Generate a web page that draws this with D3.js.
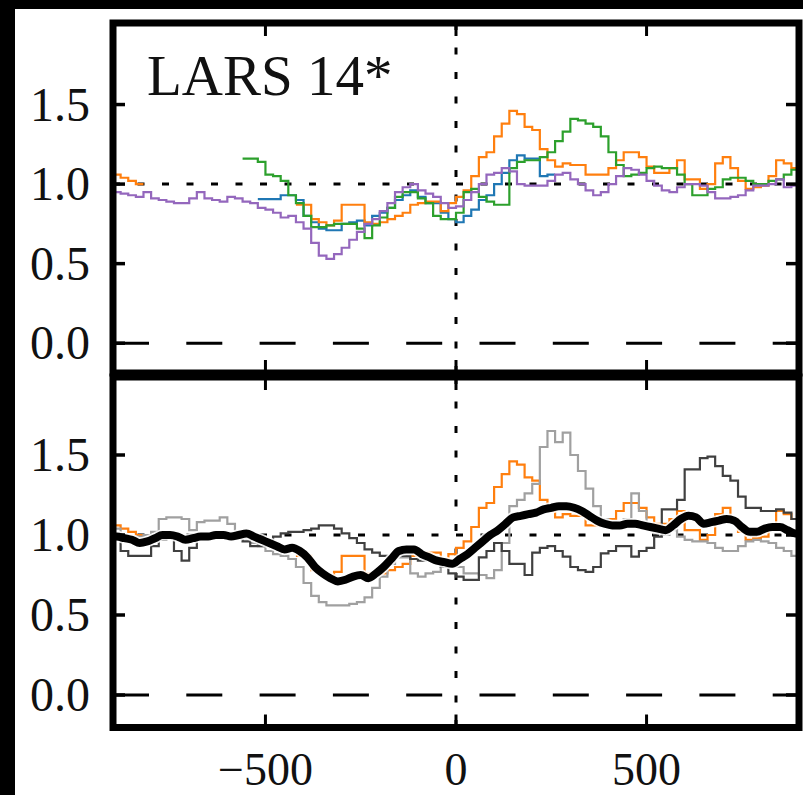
<!DOCTYPE html>
<html>
<head>
<meta charset="utf-8">
<script src="https://cdn.jsdelivr.net/npm/d3@7"></script>
<style>
  html, body { margin: 0; padding: 0; background: #000; }
  svg { display: block; }
  text { font-family: "Liberation Serif", "DejaVu Serif", serif; fill: #111; }
</style>
</head>
<body>
<svg id="chart" width="803" height="795"></svg>
<script>
// Velocity bins (km/s): left edges, 20 km/s wide, -900 ... 880
const binWidth = 20;
const velocity = d3.range(-900, 900, binWidth);

// Upper panel: normalised flux of the individual Si II lines (null = masked)
const lineBlue = [
  null, null, null, null, null, null, null, null, null, null,
  null, null, null, null, null, null, null, null, null, 0.905,
  0.905, 0.905, 0.93, 0.93, 0.90, 0.80, 0.76, 0.72, 0.71, 0.71,
  0.75, 0.76, 0.77, 0.74, 0.80, 0.82, 0.85, 0.90, 0.93, 0.96,
  0.92, 0.88, 0.88, 0.82, 0.78, 0.76, 0.80, 0.84, 0.90, 0.93,
  1.00, 1.07, 1.15, 1.18, 1.16, 1.16, 1.05, 1.06, null, null,
  null, null, null, null, null, null, null, null, null, null,
  null, null, null, null, null, null, null, null, null, null,
  null, null, null, null, null, null, null, null, null, null
];
const lineOrange = [
  1.06, 1.04, 1.02, 1.00, null, null, null, null, null, null,
  null, null, null, null, null, null, null, null, null, null,
  null, null, null, null, 0.87, 0.87, 0.78, 0.76, 0.74, 0.77,
  0.87, 0.87, 0.87, 0.76, 0.75, 0.76, 0.78, 0.80, 0.82, 0.87,
  0.88, 0.89, 0.89, 0.83, 0.88, 0.92, 0.96, 1.05, 1.17, 1.20,
  1.30, 1.38, 1.46, 1.44, 1.36, 1.34, 1.22, 1.15, 1.11, 1.13,
  1.12, 1.12, 1.06, 1.06, 1.06, 1.10, 1.15, 1.20, 1.20, 1.17,
  1.11, 1.07, 1.07, 1.10, 1.15, 1.03, 1.03, 0.97, 1.00, 1.13,
  1.17, 1.10, 1.02, 0.97, 0.98, 0.99, 1.05, 1.15, 1.13, 1.10
];
const lineGreen = [
  null, null, null, null, null, null, null, null, null, null,
  null, null, null, null, null, null, null, 1.16, 1.16, 1.14,
  1.06, 1.05, 1.02, 0.93, 0.88, 0.80, 0.73, 0.73, 0.74, 0.75,
  0.75, 0.75, 0.72, 0.66, 0.74, 0.79, 0.85, 0.92, 0.95, 0.95,
  0.91, 0.88, 0.80, 0.78, 0.78, 0.82, 0.95, 0.97, 0.92, 0.89,
  0.87, 0.87, 1.10, 1.14, 1.15, 1.15, 1.17, 1.20, 1.27, 1.33,
  1.41, 1.40, 1.38, 1.36, 1.30, 1.20, 1.12, 1.05, 1.06, 1.07,
  1.10, 1.11, 1.10, 1.10, 1.06, 1.00, 0.93, 0.93, 0.97, 0.98,
  1.03, 1.04, 1.04, 1.02, 1.00, 1.00, 1.02, 1.03, 1.06, 1.09
];
const linePurple = [
  0.95, 0.94, 0.93, 0.92, 0.95, 0.91, 0.90, 0.89, 0.88, 0.88,
  0.91, 0.95, 0.91, 0.90, 0.89, 0.92, 0.91, 0.89, 0.88, 0.85,
  0.84, 0.82, 0.79, 0.80, 0.76, 0.72, 0.63, 0.55, 0.53, 0.56,
  0.60, 0.65, 0.70, 0.75, 0.78, 0.83, 0.88, 0.95, 0.98, 1.00,
  0.96, 0.94, 0.92, 0.88, 0.85, 0.86, 0.90, 0.95, 1.00, 1.06,
  1.07, 1.10, 1.08, 1.00, 0.99, 0.99, 0.99, 1.02, 1.06, 1.07,
  1.03, 1.00, 0.96, 0.93, 0.95, 1.00, 1.05, 1.10, 1.09, 1.06,
  1.02, 0.99, 0.96, 0.95, 0.98, 1.00, 1.00, 0.99, 0.95, 0.91,
  0.91, 0.92, 0.93, 0.96, 0.99, 0.99, 1.00, 1.03, 0.98, 0.99
];

// Lower panel: comparison profiles and their average
const profileLight = [
  1.04, 1.00, 0.98, 0.99, 1.00, 1.02, 1.10, 1.11, 1.11, 1.10,
  1.03, 1.08, 1.09, 1.09, 1.11, 1.07, 1.02, 0.98, 0.95, 0.93,
  0.90, 0.88, 0.87, 0.85, 0.80, 0.70, 0.62, 0.58, 0.56, 0.56,
  0.56, 0.57, 0.58, 0.61, 0.67, 0.74, 0.82, 0.86, 0.86, 0.76,
  0.74, 0.76, 0.77, 0.80, 0.80, 0.80, 0.76, 0.76, 0.75, 0.73,
  0.78, 0.95, 1.18, 1.22, 1.26, 1.32, 1.55, 1.65, 1.58, 1.64,
  1.50, 1.40, 1.29, 1.18, 1.10, 1.08, 1.05, 1.10, 1.26, 1.15,
  1.04, 1.01, 1.00, 1.03, 0.99, 0.97, 0.96, 0.96, 0.95, 0.92,
  0.90, 0.90, 0.93, 0.96, 0.97, 0.96, 0.95, 0.92, 0.90, 0.87
];
const profileDark = [
  0.97, 0.90, 0.87, 0.87, 0.87, 0.93, 0.97, 0.98, 0.90, 0.84,
  0.92, 0.98, 0.99, 1.00, 1.00, 0.99, 0.98, 0.96, 0.93, 0.93,
  0.96, 0.99, 1.01, 1.02, 1.02, 1.03, 1.04, 1.06, 1.06, 1.04,
  1.01, 0.98, 0.95, 0.91, 0.89, 0.87, 0.86, 0.88, 0.87, 0.85,
  0.84, 0.86, 0.84, 0.80, 0.76, 0.74, 0.72, 0.72, 0.86, 0.90,
  0.95, 0.90, 0.82, 0.82, 0.75, 0.89, 0.92, 0.93, 0.90, 0.865,
  0.80, 0.78, 0.77, 0.80, 0.885, 0.90, 0.93, 0.93, 0.865, 0.90,
  0.92, 0.99, 1.16, 1.16, 1.22, 1.41, 1.41, 1.48, 1.49, 1.43,
  1.37, 1.34, 1.24, 1.17, 1.17, 1.15, 1.15, 1.16, 1.14, 1.10
];
const profileMean = [
  0.99, 0.98, 0.97, 0.95, 0.96, 0.98, 1.00, 1.00, 0.99, 0.97,
  0.98, 0.99, 0.99, 1.00, 1.00, 0.99, 1.00, 1.01, 0.99, 0.97,
  0.95, 0.93, 0.91, 0.92, 0.90, 0.86, 0.80, 0.76, 0.73, 0.71,
  0.72, 0.74, 0.75, 0.73, 0.76, 0.80, 0.85, 0.90, 0.91, 0.91,
  0.88, 0.86, 0.84, 0.83, 0.82, 0.85, 0.88, 0.92, 0.96, 1.00,
  1.03, 1.07, 1.11, 1.12, 1.13, 1.14, 1.16, 1.17, 1.18, 1.18,
  1.17, 1.15, 1.12, 1.09, 1.07, 1.06, 1.06, 1.07, 1.07, 1.06,
  1.05, 1.04, 1.03, 1.06, 1.10, 1.12, 1.11, 1.07, 1.08, 1.09,
  1.10, 1.09, 1.05, 1.02, 1.02, 1.04, 1.05, 1.05, 1.03, 1.01
];

const xTicks = [-500, 0, 500];
const yTicks = [0.0, 0.5, 1.0, 1.5];
const panelLabel = "LARS 14*";

// ---- layout ----
const svg = d3.select("#chart");
svg.append("rect").attr("width", 803).attr("height", 795).attr("fill", "#000");
svg.append("rect").attr("x", 15).attr("y", 9).attr("width", 788).attr("height", 786).attr("fill", "#fff");

const left = 113, right = 799;
const x = d3.scaleLinear().domain([-900, 900]).range([left, right]);

const panels = [
  { top: 23, bottom: 373, y: d3.scaleLinear().domain([-0.2, 2.0]).range([375, 25]) },
  { top: 377, bottom: 727.5, y: d3.scaleLinear().domain([-0.2, 2.0]).range([727, 375]) }
];

// step outline through bin edges, broken where the series is masked
function stepPoints(values) {
  const pts = [];
  values.forEach((v, i) => {
    if (v == null) { pts.push(null); return; }
    pts.push([velocity[i], v], [velocity[i] + binWidth, v]);
  });
  return pts;
}
// bin-centre points for the averaged profile
function centrePoints(values) {
  const pts = values.map((v, i) => [velocity[i] + binWidth / 2, v]);
  pts.unshift([velocity[0], values[0]]);
  pts.push([velocity[velocity.length - 1] + binWidth, values[values.length - 1]]);
  return pts;
}

panels.forEach((p, k) => {
  const g = svg.append("g");
  const clipId = "clip" + k;
  svg.append("clipPath").attr("id", clipId)
    .append("rect").attr("x", left).attr("y", p.top)
    .attr("width", right - left).attr("height", p.bottom - p.top);

  const plot = g.append("g").attr("clip-path", `url(#${clipId})`);
  const line = d3.line().defined(d => d != null).x(d => x(d[0])).y(d => p.y(d[1]));

  // reference lines
  plot.append("line")
    .attr("x1", x(-900)).attr("x2", x(900)).attr("y1", p.y(0)).attr("y2", p.y(0))
    .attr("stroke", "#000").attr("stroke-width", 3).attr("stroke-dasharray", "36,37.3");
  plot.append("line")
    .attr("x1", x(-900)).attr("x2", x(900)).attr("y1", p.y(1)).attr("y2", p.y(1))
    .attr("stroke", "#000").attr("stroke-width", 3).attr("stroke-dasharray", "7,17.5");
  plot.append("line")
    .attr("x1", x(0)).attr("x2", x(0)).attr("y1", p.top).attr("y2", p.bottom)
    .attr("stroke", "#000").attr("stroke-width", 3).attr("stroke-dasharray", "7,17.5");

  const series = k === 0
    ? [ { v: lineBlue, c: "#1f77b4", w: 2.2 },
        { v: lineOrange, c: "#ff7f0e", w: 2.2 },
        { v: lineGreen, c: "#2ca02c", w: 2.2 },
        { v: linePurple, c: "#9467bd", w: 2.2 } ]
    : [ { v: lineOrange, c: "#ff7f0e", w: 2.2 },
        { v: profileLight, c: "#a0a0a0", w: 2.2 },
        { v: profileDark, c: "#404040", w: 2.2 } ];

  series.forEach(s => {
    plot.append("path").attr("d", line(stepPoints(s.v)))
      .attr("fill", "none").attr("stroke", s.c).attr("stroke-width", s.w)
      .attr("stroke-linejoin", "miter");
  });

  if (k === 1) {
    const meanPath = line.curve(d3.curveMonotoneX)(centrePoints(profileMean));
    plot.append("path").attr("d", meanPath)
      .attr("fill", "none").attr("stroke", "#fff").attr("stroke-width", 11.5)
      .attr("stroke-linejoin", "round").attr("stroke-opacity", 0.85);
    plot.append("path").attr("d", meanPath)
      .attr("fill", "none").attr("stroke", "#000").attr("stroke-width", 8)
      .attr("stroke-linejoin", "round").attr("stroke-linecap", "round");
  }

  // ticks (inward on all four sides)
  xTicks.forEach(t => {
    g.append("line").attr("x1", x(t)).attr("x2", x(t)).attr("y1", p.top).attr("y2", p.top + 13)
      .attr("stroke", "#000").attr("stroke-width", 3);
    g.append("line").attr("x1", x(t)).attr("x2", x(t)).attr("y1", p.bottom).attr("y2", p.bottom - 13)
      .attr("stroke", "#000").attr("stroke-width", 3);
  });
  yTicks.forEach(t => {
    g.append("line").attr("x1", left).attr("x2", left + 12).attr("y1", p.y(t)).attr("y2", p.y(t))
      .attr("stroke", "#000").attr("stroke-width", 3.5);
    g.append("line").attr("x1", right).attr("x2", right - 13).attr("y1", p.y(t)).attr("y2", p.y(t))
      .attr("stroke", "#000").attr("stroke-width", 3.5);
    g.append("text").attr("x", 90).attr("y", p.y(t) + 16)
      .attr("text-anchor", "end").attr("font-size", 48)
      .text(d3.format(".1f")(t));
  });

  // frame
  g.append("rect").attr("x", left).attr("y", p.top)
    .attr("width", right - left).attr("height", p.bottom - p.top)
    .attr("fill", "none").attr("stroke", "#000").attr("stroke-width", 7);
});

// x tick labels under the lower panel
xTicks.forEach(t => {
  svg.append("text").attr("x", x(t)).attr("y", 785)
    .attr("text-anchor", "middle").attr("font-size", 46)
    .text(t < 0 ? "\u2212" + Math.abs(t) : String(t));
});

svg.append("text").attr("x", 147).attr("y", 95).attr("font-size", 57).text(panelLabel);
</script>
</body>
</html>
